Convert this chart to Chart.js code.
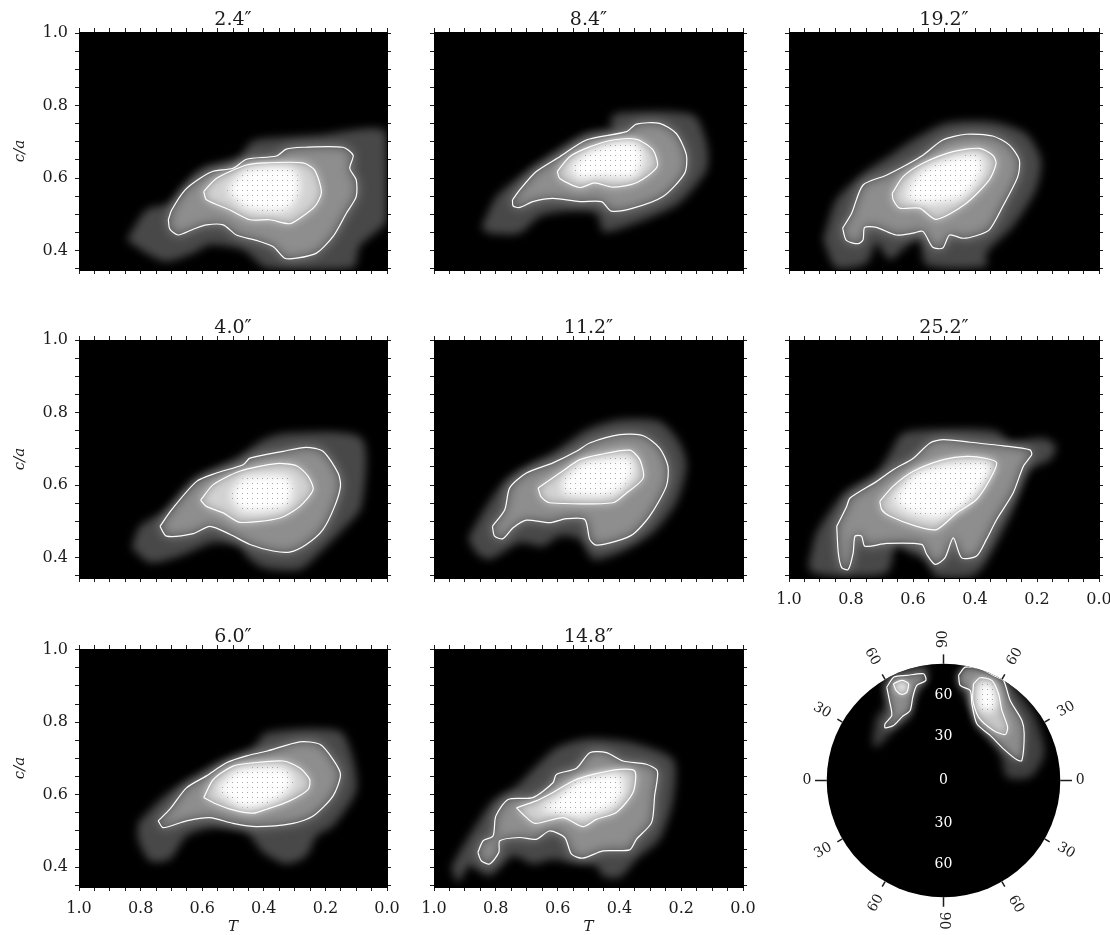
<!DOCTYPE html>
<html><head><meta charset="utf-8">
<script src="https://cdn.jsdelivr.net/npm/chart.js@4"></script>
<style>html,body{margin:0;padding:0;background:#fff;width:1110px;height:935px;overflow:hidden}canvas{position:absolute;display:block}</style>
</head><body>
<script>
const xTickValues=[0,.05,.1,.15,.2,.25,.3,.35,.4,.45,.5,.55,.6,.65,.7,.75,.8,.85,.9,.95,1];
const yTickValues=[.35,.4,.45,.5,.55,.6,.65,.7,.75,.8,.85,.9,.95,1];

// [T, c/a]
const p24Halo=[[.845,.430],[.781,.512],[.705,.531],[.608,.622],[.478,.659],[.445,.696],[.413,.707],[.229,.718],[.002,.728],[0,.485],[.089,.411],[.110,.352],[.391,.352],[.467,.402],[.575,.416],[.629,.393],[.716,.370],[.781,.393]];
const p24Outer=[[.710,.485],[.699,.512],[.656,.567],[.608,.599],[.564,.619],[.500,.627],[.456,.652],[.359,.661],[.327,.680],[.273,.685],[.143,.685],[.110,.663],[.121,.627],[.100,.595],[.100,.549],[.132,.503],[.175,.439],[.229,.393],[.294,.379],[.332,.379],[.370,.411],[.424,.428],[.489,.443],[.532,.471],[.586,.471],[.629,.459],[.678,.443],[.705,.459]];
const p24Inner=[[.595,.563],[.554,.599],[.456,.636],[.391,.642],[.273,.642],[.235,.622],[.213,.560],[.235,.521],[.283,.489],[.316,.474],[.381,.485],[.445,.485],[.510,.512],[.586,.540]];
const p24Core=[[.521,.567],[.456,.622],[.305,.627],[.283,.567],[.327,.512],[.456,.517]];

const p40Halo=[[.829,.427],[.802,.486],[.716,.532],[.618,.615],[.478,.679],[.402,.725],[.327,.743],[.083,.729],[.083,.541],[.143,.477],[.218,.413],[.283,.367],[.402,.372],[.456,.404],[.478,.431],[.564,.441],[.672,.404],[.770,.386]];
const p40Outer=[[.737,.486],[.699,.532],[.618,.610],[.554,.633],[.467,.656],[.445,.674],[.337,.693],[.262,.704],[.208,.693],[.159,.633],[.151,.597],[.170,.541],[.208,.477],[.262,.436],[.316,.415],[.370,.418],[.445,.436],[.510,.464],[.575,.486],[.629,.466],[.716,.459]];
const p40Inner=[[.605,.558],[.564,.601],[.478,.638],[.359,.659],[.294,.653],[.256,.624],[.240,.587],[.283,.541],[.348,.509],[.478,.497],[.532,.523],[.586,.541]];
const p40Core=[[.510,.569],[.467,.619],[.327,.624],[.305,.597],[.327,.541],[.467,.528]];

const p60Halo=[[.808,.523],[.716,.601],[.564,.679],[.435,.729],[.391,.771],[.154,.775],[.110,.697],[.100,.610],[.175,.514],[.229,.486],[.262,.431],[.327,.409],[.402,.441],[.456,.496],[.564,.509],[.651,.486],[.705,.422],[.770,.418],[.808,.477]];
const p60Outer=[[.743,.528],[.705,.560],[.651,.619],[.586,.652],[.521,.688],[.456,.707],[.391,.720],[.283,.746],[.218,.739],[.175,.697],[.151,.656],[.175,.597],[.240,.541],[.305,.521],[.424,.512],[.500,.521],[.575,.537],[.651,.528],[.727,.509]];
const p60Inner=[[.595,.592],[.564,.642],[.500,.679],[.435,.688],[.337,.693],[.283,.674],[.251,.642],[.256,.615],[.316,.583],[.391,.560],[.435,.549],[.500,.558],[.564,.578]];
const p60Core=[[.554,.615],[.478,.670],[.337,.674],[.305,.633],[.359,.587],[.467,.564]];

const p84Halo=[[.847,.462],[.798,.549],[.723,.604],[.615,.668],[.507,.723],[.421,.737],[.431,.760],[.399,.780],[.162,.774],[.118,.696],[.118,.622],[.205,.531],[.291,.494],[.410,.457],[.453,.453],[.475,.503],[.572,.508],[.658,.494],[.723,.448],[.820,.448]];
const p84Outer=[[.746,.540],[.723,.567],[.669,.618],[.593,.659],[.507,.705],[.377,.728],[.345,.749],[.270,.751],[.216,.723],[.183,.663],[.189,.613],[.259,.549],[.356,.517],[.426,.509],[.458,.535],[.528,.535],[.615,.544],[.680,.535],[.723,.519],[.744,.523]];
const p84Inner=[[.601,.618],[.561,.659],[.496,.686],[.421,.705],[.345,.707],[.291,.677],[.278,.631],[.345,.587],[.421,.575],[.480,.587],[.528,.574],[.593,.599]];
const p84Core=[[.561,.627],[.507,.668],[.421,.696],[.345,.696],[.323,.650],[.356,.604],[.475,.604],[.528,.599]];

const p112Halo=[[.890,.454],[.831,.541],[.766,.615],[.680,.661],[.615,.688],[.507,.752],[.399,.780],[.270,.775],[.205,.716],[.183,.652],[.216,.551],[.291,.468],[.399,.413],[.485,.395],[.528,.450],[.593,.459],[.647,.431],[.723,.441],[.820,.395],[.863,.413]];
const p112Outer=[[.811,.486],[.771,.532],[.755,.592],[.701,.633],[.615,.661],[.539,.693],[.496,.716],[.399,.739],[.323,.736],[.270,.702],[.243,.652],[.248,.597],[.302,.514],[.356,.464],[.410,.445],[.475,.434],[.496,.450],[.512,.505],[.572,.507],[.626,.496],[.701,.503],[.744,.482],[.777,.452],[.804,.459]];
const p112Inner=[[.663,.592],[.593,.633],[.528,.670],[.464,.684],[.367,.696],[.334,.670],[.323,.619],[.377,.578],[.421,.551],[.626,.551],[.653,.567]];
const p112Core=[[.582,.615],[.518,.661],[.367,.674],[.356,.633],[.399,.587],[.453,.569],[.582,.578]];

const p148Halo=[[.944,.399],[.906,.459],[.852,.532],[.809,.583],[.733,.624],[.669,.679],[.604,.729],[.507,.754],[.356,.743],[.226,.697],[.226,.587],[.270,.477],[.345,.422],[.399,.372],[.453,.376],[.475,.404],[.561,.413],[.615,.422],[.680,.409],[.744,.431],[.820,.376],[.885,.404],[.922,.358]];
const p148Outer=[[.858,.441],[.841,.473],[.809,.486],[.800,.541],[.760,.587],[.680,.592],[.615,.633],[.604,.656],[.539,.673],[.496,.716],[.442,.716],[.388,.693],[.313,.684],[.277,.665],[.286,.597],[.296,.523],[.345,.477],[.367,.448],[.453,.445],[.518,.425],[.555,.436],[.577,.482],[.626,.500],[.669,.477],[.723,.482],[.787,.473],[.790,.441],[.820,.409],[.847,.418]];
const p148Inner=[[.733,.564],[.669,.583],[.615,.606],[.550,.638],[.485,.656],[.399,.670],[.350,.665],[.356,.606],[.410,.551],[.475,.532],[.518,.512],[.582,.537],[.674,.521],[.712,.546]];
const p148Core=[[.658,.560],[.593,.597],[.528,.642],[.399,.656],[.388,.606],[.431,.564],[.528,.541],[.615,.551]];

const p192Halo=[[.890,.430],[.847,.540],[.761,.613],[.664,.668],[.600,.705],[.493,.751],[.343,.755],[.236,.723],[.187,.650],[.204,.567],[.279,.466],[.364,.393],[.364,.356],[.557,.361],[.579,.430],[.622,.411],[.675,.375],[.718,.420],[.750,.365],[.847,.352]];
const p192Outer=[[.827,.462],[.798,.503],[.761,.581],[.686,.608],[.622,.636],[.568,.663],[.504,.705],[.429,.721],[.343,.716],[.289,.691],[.257,.650],[.262,.604],[.311,.521],[.354,.457],[.396,.441],[.439,.434],[.482,.443],[.504,.407],[.536,.409],[.568,.453],[.600,.448],[.654,.443],[.718,.464],[.756,.464],[.761,.430],[.777,.419],[.815,.428]];
const p192Inner=[[.667,.558],[.632,.604],[.568,.641],[.471,.673],[.386,.682],[.343,.663],[.332,.641],[.354,.595],[.429,.530],[.525,.486],[.579,.517],[.643,.517],[.664,.540]];
const p192Core=[[.622,.563],[.568,.622],[.461,.659],[.386,.663],[.375,.622],[.439,.549],[.547,.530],[.611,.540]];

const p252Halo=[[.938,.376],[.911,.468],[.857,.541],[.814,.583],[.717,.633],[.674,.688],[.631,.743],[.459,.754],[.330,.748],[.287,.720],[.180,.729],[.139,.707],[.158,.670],[.223,.642],[.287,.514],[.373,.376],[.416,.346],[.524,.346],[.556,.395],[.610,.413],[.653,.441],[.685,.358],[.846,.349],[.922,.358]];
const p252Outer=[[.846,.486],[.814,.541],[.803,.564],[.717,.610],[.664,.642],[.599,.674],[.545,.716],[.502,.725],[.416,.718],[.309,.708],[.223,.697],[.217,.684],[.244,.652],[.277,.578],[.330,.505],[.363,.450],[.395,.404],[.443,.399],[.470,.454],[.497,.399],[.529,.381],[.556,.409],[.572,.436],[.685,.439],[.755,.431],[.766,.459],[.787,.459],[.793,.413],[.809,.367],[.830,.372],[.841,.413]];
const p252Inner=[[.707,.555],[.664,.597],[.599,.638],[.502,.670],[.427,.679],[.363,.673],[.330,.661],[.352,.615],[.395,.560],[.459,.523],[.524,.477],[.588,.486],[.674,.514],[.701,.532]];
const p252Core=[[.664,.560],[.599,.629],[.502,.656],[.373,.665],[.346,.652],[.373,.606],[.438,.541],[.524,.509],[.621,.528]];

// polar panel, unit-disc coordinates
const leftHalo=[[-.514,.857],[-.343,.957],[-.143,.986],[-.143,.886],[-.257,.686],[-.286,.543],[-.429,.429],[-.571,.286],[-.606,.314],[-.571,.543],[-.5,.629]];
const leftOuter=[[-.486,.800],[-.423,.886],[-.314,.900],[-.171,.914],[-.151,.857],[-.229,.814],[-.263,.714],[-.286,.600],[-.357,.543],[-.429,.471],[-.500,.451],[-.500,.486],[-.443,.557],[-.463,.686]];
const leftInner=[[-.429,.829],[-.357,.857],[-.300,.829],[-.314,.757],[-.357,.737],[-.406,.771]];
const rightHalo=[[.2,.971],[.343,.943],[.571,.829],[.771,.571],[.857,.314],[.857,.2],[.743,.029],[.543,.029],[.486,.229],[.314,.457],[.2,.686],[.129,.886]];
const rightOuter=[[.129,.900],[.186,.971],[.314,.957],[.457,.886],[.514,.857],[.571,.686],[.671,.514],[.691,.400],[.671,.171],[.629,.177],[.514,.271],[.4,.386],[.286,.486],[.243,.657],[.229,.771],[.143,.814]];
const rightInner=[[.257,.829],[.314,.880],[.414,.857],[.471,.743],[.5,.6],[.549,.457],[.529,.394],[.429,.429],[.3,.543],[.251,.686]];
const rightCore=[[.3,.829],[.414,.829],[.457,.657],[.4,.586],[.3,.629]];
const rimTicks=[[[1,0],[1.1,0]],[[.866,.5],[.909,.525]],[[.5,.866],[.525,.909]],[[0,1],[0,1.08]],[[-.5,.866],[-.525,.909]],[[-.866,.5],[-.909,.525]],[[-1,0],[-1.1,0]],[[-.866,-.5],[-.909,-.525]],[[-.5,-.866],[-.525,-.909]],[[0,-1],[0,-1.08]],[[.5,-.866],[.525,-.909]],[[.866,-.5],[.909,-.525]]];
const innerLabels=[[0,.73,'60'],[0,.38,'30'],[0,0,'0'],[0,-.37,'30'],[0,-.72,'60']];
const rimLabels=[[1.17,0,'0',0],[1.05,.61,'30',-30],[.61,1.06,'60',-60],[0,1.21,'90',-90],[-.61,1.06,'60',60],[-1.04,.6,'30',30],[-1.17,0,'0',0],[-1.03,-.6,'30',-30],[-.58,-1.05,'60',-60],[0,-1.2,'90',90],[.62,-1.06,'60',60],[1.05,-.6,'30',30]];

const panels=[
 {title:'2.4″',row:0,col:0,d:[p24Halo,p24Outer,p24Inner,p24Core]},
 {title:'8.4″',row:0,col:1,d:[p84Halo,p84Outer,p84Inner,p84Core]},
 {title:'19.2″',row:0,col:2,d:[p192Halo,p192Outer,p192Inner,p192Core]},
 {title:'4.0″',row:1,col:0,d:[p40Halo,p40Outer,p40Inner,p40Core]},
 {title:'11.2″',row:1,col:1,d:[p112Halo,p112Outer,p112Inner,p112Core]},
 {title:'25.2″',row:1,col:2,d:[p252Halo,p252Outer,p252Inner,p252Core],xl:true},
 {title:'6.0″',row:2,col:0,d:[p60Halo,p60Outer,p60Inner,p60Core],xl:true,xt:true},
 {title:'14.8″',row:2,col:1,d:[p148Halo,p148Outer,p148Inner,p148Core],xl:true,xt:true}
];
const colLeft=[79,434,789],colW=[308,309,310],rowTop=[32,340,649],plotH=238,yMaxRow=[1.003,1,1.002],yPerUnit=362.5;
const SERIF='"DejaVu Serif"',INK='#1c1c1c';

function stipple(){const c=document.createElement('canvas');c.width=c.height=5;const x=c.getContext('2d');x.fillStyle='rgba(130,130,130,.7)';x.fillRect(2,2,1,1);return x.createPattern(c,'repeat');}
const dots=stipple();
const pts=a=>a.concat([a[0]]).map(p=>({x:p[0],y:p[1]}));
const fillDs=(a,col,blur)=>({data:pts(a),fill:'shape',backgroundColor:col,borderColor:'transparent',borderWidth:0,pointRadius:0,tension:.25,blur});
const lineDs=a=>({data:pts(a),fill:false,borderColor:'#fff',borderWidth:1.2,pointRadius:0,tension:.25,blur:0});
const flt=b=>b?`blur(${b}px)`:'none';
const blurPlugin={id:'blurLayers',
 beforeDatasetsDraw(ch){const n=ch.data.datasets.length;ch.ctx.filter=flt(ch.data.datasets[n-1].blur);},
 afterDatasetDraw(ch,a){const i=a.index-1;ch.ctx.filter=i>=0?flt(ch.data.datasets[i].blur):'none';},
 afterDatasetsDraw(ch){ch.ctx.filter='none';}};
const bgPlugin={id:'plotBg',beforeDatasetsDraw(ch){const a=ch.chartArea;ch.ctx.save();ch.ctx.filter='none';ch.ctx.fillStyle='#000';ch.ctx.fillRect(a.left,a.top,a.width,a.height);ch.ctx.restore();}};

function mk(left,top,w,h){const c=document.createElement('canvas');c.width=w;c.height=h;c.style.left=left+'px';c.style.top=top+'px';c.style.width=w+'px';c.style.height=h+'px';document.body.appendChild(c);return c;}
const lab=v=>Math.abs(v*5-Math.round(v*5))<1e-6?v.toFixed(1):'';
const setTicks=arr=>s=>{s.ticks=arr.map(value=>({value}));};

panels.forEach(p=>{
 const L=p.col===0?79:16,R=16,TOPAX=2,TITLE=22,B=p.xt?48:(p.xl?30:18);
 const W=colW[p.col],left=colLeft[p.col]-L,top=rowTop[p.row]-TITLE-TOPAX;
 const cv=mk(left,top,L+W+R,TITLE+TOPAX+plotH+B);
 const ymax=yMaxRow[p.row],ymin=ymax-plotH/yPerUnit;
 const [h,o,i,c]=p.d;
 const grid={drawOnChartArea:false,color:INK,tickColor:INK,tickLength:4,lineWidth:1};
 const border={color:'#000',width:1};
 const fixH=v=>s=>{s.height=v;};const fixW=v=>s=>{s.width=v;};
 new Chart(cv,{type:'line',
  data:{datasets:[lineDs(o),lineDs(i),fillDs(c,dots,0),fillDs(c,'#ffffff',5),fillDs(i,'#d2d2d2',5),fillDs(o,'#8e8e8e',6),fillDs(h,'#484848',4)]},
  options:{responsive:false,animation:false,events:[],layout:{padding:0},
   plugins:{legend:{display:false},tooltip:{enabled:false},
    title:{display:true,text:p.title,fullSize:false,color:INK,font:{family:SERIF,size:19,weight:'normal',lineHeight:1},padding:{top:3,bottom:0}}},
   scales:{
    x:{type:'linear',position:'bottom',reverse:true,min:0,max:1,grid,border,afterBuildTicks:setTicks(xTickValues),afterFit:fixH(B),
       ticks:{display:!!p.xl,autoSkip:false,maxRotation:0,padding:8,color:INK,font:{family:SERIF,size:16},callback:lab},
       title:{display:!!p.xt,text:'T',color:INK,font:{family:SERIF,size:15,style:'italic',lineHeight:1},padding:{top:0,bottom:0}}},
    xTop:{type:'linear',axis:'x',position:'top',reverse:true,min:0,max:1,grid,border,afterBuildTicks:setTicks(xTickValues),afterFit:fixH(TOPAX),ticks:{display:false}},
    y:{type:'linear',position:'left',min:ymin,max:ymax,grid,border,afterBuildTicks:setTicks(yTickValues),afterFit:fixW(L),
       ticks:{display:p.col===0,autoSkip:false,padding:7,color:INK,font:{family:SERIF,size:16},callback:lab},
       title:{display:p.col===0,text:'c/a',color:INK,font:{family:SERIF,size:15,style:'italic',lineHeight:1.2},padding:{top:11,bottom:0}}},
    yRight:{type:'linear',axis:'y',position:'right',min:ymin,max:ymax,grid,border,afterBuildTicks:setTicks(yTickValues),afterFit:fixW(R),ticks:{display:false}}
   }},
  plugins:[bgPlugin,blurPlugin]});
});

// polar panel
(function(){
 const u=116.7,span=1.4,size=Math.round(2*span*u);
 const cv=mk(Math.round(943.5-size/2),Math.round(780-size/2),size,size);
 const discR=c=>c.chart.scales.x.getPixelForValue(1)-c.chart.scales.x.getPixelForValue(0);
 const tickDs=rimTicks.map(t=>({data:t.map(q=>({x:q[0],y:q[1]})),fill:false,borderColor:INK,borderWidth:1.5,pointRadius:0,blur:0}));
 const disc={data:[{x:0,y:0}],showLine:false,fill:false,pointRadius:discR,pointBackgroundColor:'#000',pointBorderWidth:0,blur:0,isDisc:true};
 const datasets=[lineDs(rightOuter),lineDs(rightInner),lineDs(leftOuter),lineDs(leftInner),
  fillDs(rightCore,dots,0),fillDs(rightCore,'#ffffff',4),fillDs(leftInner,'#e0e0e0',3),fillDs(rightInner,'#c8c8c8',4),
  fillDs(leftOuter,'#8c8c8c',4),fillDs(rightOuter,'#8c8c8c',4),fillDs(leftHalo,'#404040',4),fillDs(rightHalo,'#404040',4),disc,...tickDs];
 const clipPlugin={id:'discClip',
  afterDatasetDraw(ch,a){if(ch.data.datasets[a.index].isDisc){const x=ch.scales.x,y=ch.scales.y,g=ch.ctx;g.save();g.beginPath();g.arc(x.getPixelForValue(0),y.getPixelForValue(0),x.getPixelForValue(1)-x.getPixelForValue(0),0,Math.PI*2);g.clip();ch.$clipped=true;}},
  afterDatasetsDraw(ch){if(ch.$clipped){ch.ctx.restore();ch.$clipped=false;}
   const x=ch.scales.x,y=ch.scales.y,g=ch.ctx;g.save();g.filter='none';g.font='14px '+SERIF;g.textAlign='center';g.textBaseline='middle';
   g.fillStyle='#fff';innerLabels.forEach(l=>g.fillText(l[2],x.getPixelForValue(l[0]),y.getPixelForValue(l[1])));
   g.fillStyle=INK;rimLabels.forEach(l=>{g.save();g.translate(x.getPixelForValue(l[0]),y.getPixelForValue(l[1]));g.rotate(l[3]*Math.PI/180);g.fillText(l[2],0,0);g.restore();});
   g.restore();}};
 new Chart(cv,{type:'line',data:{datasets},
  options:{responsive:false,animation:false,events:[],layout:{padding:0},
   plugins:{legend:{display:false},tooltip:{enabled:false},title:{display:false}},
   scales:{x:{type:'linear',display:false,min:-span,max:span},y:{type:'linear',display:false,min:-span,max:span}}},
  plugins:[blurPlugin,clipPlugin]});
})();
</script>
</body></html>
